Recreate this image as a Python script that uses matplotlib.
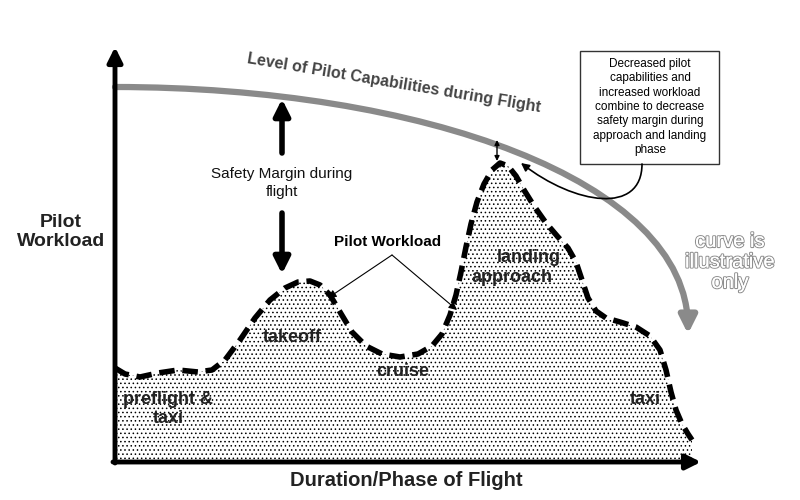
import matplotlib
matplotlib.use("Agg")
import matplotlib.pyplot as plt
from matplotlib.patches import FancyArrowPatch, Rectangle
from matplotlib.path import Path
import matplotlib.patheffects as pe

plt.rcParams['font.family'] = ['Liberation Sans', 'DejaVu Sans']
plt.rcParams['hatch.linewidth'] = 0.6

# Workload curve (diagram coords: x = duration, y = screen-down position)
workload_x = [115, 125, 140, 158, 178, 198, 212, 225, 240, 255, 270, 285, 298, 310, 320,
              330, 340, 352, 366, 382, 400, 418, 432, 442, 450, 456, 461, 466, 471, 477,
              484, 492, 500, 508, 516, 524, 534, 546, 558, 568, 576, 582, 588, 596, 606,
              620, 636, 650, 660, 666, 671, 676, 682, 688, 692]
workload_y = [368, 374, 377, 373, 370, 372, 370, 360, 340, 318, 300, 288, 282, 281, 285,
              295, 312, 332, 346, 354, 357, 354, 346, 334, 315, 295, 272, 247, 224, 202,
              184, 170, 163, 166, 176, 190, 206, 223, 237, 248, 262, 280, 298, 311, 318,
              322, 327, 336, 350, 370, 392, 410, 424, 434, 440]

# Pilot capability curve control points (cubic Bezier)
capability_ctrl = [(115, 87), (420, 87), (688, 180), (688, 334)]

phase_labels = ["preflight &\ntaxi", "takeoff", "cruise", "landing", "approach", "taxi"]
phase_pos = [(168, 409), (292, 338), (403, 372), (529, 258), (512, 277), (645, 400)]

fig = plt.figure(figsize=(8, 5), dpi=100)
ax = fig.add_axes([0, 0, 1, 1])
ax.set_xlim(0, 800)
ax.set_ylim(500, 0)
ax.axis('off')

# stippled fill under workload
base = 462
ax.fill_between(workload_x, workload_y, base, facecolor='white', edgecolor='black',
                hatch='....', linewidth=0, zorder=1)
ax.plot(workload_x, workload_y, color='black', lw=4, linestyle=(0, (2.8, 1.4)),
        solid_capstyle='butt', zorder=3)

# axes arrows
ax.add_patch(FancyArrowPatch((115, base + 1), (115, 47), arrowstyle='-|>',
                             mutation_scale=22, lw=3.5, color='black', shrinkA=0, shrinkB=0, zorder=5))
ax.add_patch(FancyArrowPatch((113, base), (701, base), arrowstyle='-|>',
                             mutation_scale=22, lw=3.5, color='black', shrinkA=0, shrinkB=0, zorder=5))

# capability curve
cap_path = Path(capability_ctrl, [Path.MOVETO, Path.CURVE4, Path.CURVE4, Path.CURVE4])
ax.add_patch(FancyArrowPatch(path=cap_path, arrowstyle='-|>', mutation_scale=26,
                             lw=4.5, color='#8a8a8a', shrinkA=0, shrinkB=0, zorder=2))

ax.text(394, 83, "Level of Pilot Capabilities during Flight", fontsize=11.5,
        fontweight='bold', color='#444444', rotation=-9.5, ha='center', va='center')

# safety margin arrows
ax.add_patch(FancyArrowPatch((282, 153), (282, 99), arrowstyle='-|>',
                             mutation_scale=24, lw=4, color='black', shrinkA=0, shrinkB=0))
ax.add_patch(FancyArrowPatch((282, 213), (282, 274), arrowstyle='-|>',
                             mutation_scale=24, lw=4, color='black', shrinkA=0, shrinkB=0))
ax.text(282, 183, "Safety Margin during\nflight", fontsize=11, ha='center', va='center',
        linespacing=1.3, color='#111111')

# Pilot Workload label and pointers
ax.text(388, 242, "Pilot Workload", fontsize=11, fontweight='bold', ha='center', va='center')
for tgt in [(328, 298), (457, 310)]:
    ax.add_patch(FancyArrowPatch((392, 255), tgt, arrowstyle='-|>', mutation_scale=12,
                                 lw=0.8, color='black', shrinkA=0, shrinkB=0, zorder=4))

# phase labels
for lab, (px, py) in zip(phase_labels, phase_pos):
    ax.text(px, py, lab, fontsize=13, fontweight='bold', ha='center', va='center',
            color='#222222', linespacing=1.2, zorder=4)

# axis titles
ax.text(61, 232, "Pilot\nWorkload", fontsize=14, fontweight='bold', ha='center',
        va='center', linespacing=1.2, color='#222222')
ax.text(406, 480, "Duration/Phase of Flight", fontsize=14.5, fontweight='bold',
        ha='center', va='center', color='#222222')

# note box
ax.add_patch(Rectangle((580, 51), 139, 113, facecolor='white', edgecolor='#333333', lw=1, zorder=4))
ax.text(650, 107, "Decreased pilot\ncapabilities and\nincreased workload\ncombine to decrease\n"
        "safety margin during\napproach and landing\nphase", fontsize=8.5, ha='center',
        va='center', linespacing=1.25, zorder=5)
conn = Path([(642, 164), (642, 215), (575, 205), (521, 163)],
            [Path.MOVETO, Path.CURVE4, Path.CURVE4, Path.CURVE4])
ax.add_patch(FancyArrowPatch(path=conn, arrowstyle='-|>', mutation_scale=12, lw=1.2,
                             color='black', shrinkA=0, shrinkB=0, zorder=4))

# margin double arrow
ax.add_patch(FancyArrowPatch((497, 140), (497, 161), arrowstyle='<|-|>', mutation_scale=7,
                             lw=1, color='black', shrinkA=0, shrinkB=0, zorder=4))

# illustrative note
ax.text(730, 262, "curve is\nillustrative\nonly", fontsize=14.5, fontweight='normal',
        ha='center', va='center', color='white', linespacing=1.1,
        path_effects=[pe.withStroke(linewidth=1.6, foreground='#8f8f8f'), pe.Normal()])

fig.savefig("out.png", dpi=100)
